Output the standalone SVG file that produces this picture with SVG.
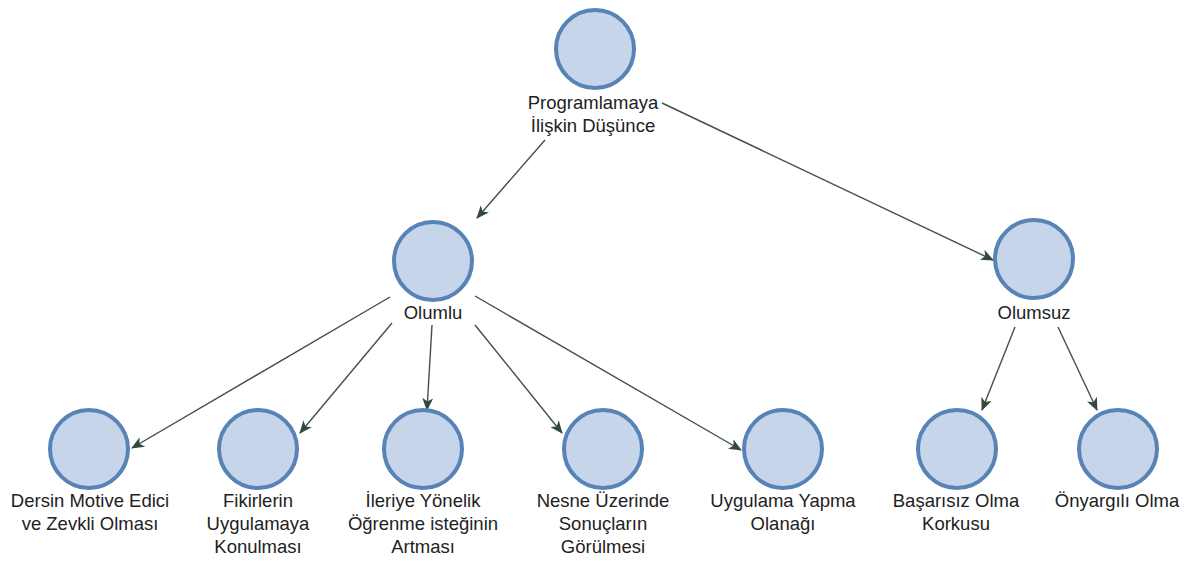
<svg xmlns="http://www.w3.org/2000/svg" width="1193" height="561" viewBox="0 0 1193 561">
  <defs>
    <marker id="arrow" viewBox="0 0 13 11" refX="12" refY="5.5" markerWidth="13" markerHeight="11" markerUnits="userSpaceOnUse" orient="auto">
      <path d="M0,0 L13,5.5 L0,11 L3.5,5.5 Z" fill="#34483f"/>
    </marker>
  </defs>
  <style>
    .node circle { fill: #c6d5ea; stroke: #5783b6; stroke-width: 4; }
    .node text { font-family: "Liberation Sans", Arial, sans-serif; font-size: 18.5px; fill: #222; text-anchor: middle; }
    .edges line { stroke: #3e5249; stroke-width: 1.4; marker-end: url(#arrow); }
  </style>
  <rect width="1193" height="561" fill="#ffffff"/>

  <g class="edges">
    <line x1="545" y1="140" x2="477" y2="218"/>
    <line x1="662" y1="103" x2="993" y2="260"/>
    <line x1="390" y1="297" x2="132" y2="448"/>
    <line x1="392" y1="323" x2="300" y2="433"/>
    <line x1="432" y1="325" x2="427" y2="410"/>
    <line x1="475" y1="325" x2="562" y2="433"/>
    <line x1="475" y1="296" x2="741" y2="450"/>
    <line x1="1015" y1="327" x2="982" y2="410"/>
    <line x1="1058" y1="327" x2="1097" y2="410"/>
  </g>

  <g id="node-programlamaya" class="node">
    <circle cx="595" cy="49" r="39"/>
    <text x="593" y="109">Programlamaya</text>
    <text x="593" y="132">İlişkin Düşünce</text>
  </g>
  <g id="node-olumlu" class="node">
    <circle cx="433" cy="261" r="39"/>
    <text x="433" y="319">Olumlu</text>
  </g>
  <g id="node-olumsuz" class="node">
    <circle cx="1034" cy="259" r="39"/>
    <text x="1034" y="319">Olumsuz</text>
  </g>
  <g id="node-dersin" class="node">
    <circle cx="89" cy="449" r="39"/>
    <text x="90" y="507">Dersin Motive Edici</text>
    <text x="90" y="530">ve Zevkli Olması</text>
  </g>
  <g id="node-fikirlerin" class="node">
    <circle cx="258" cy="449" r="39"/>
    <text x="258" y="507">Fikirlerin</text>
    <text x="258" y="530">Uygulamaya</text>
    <text x="258" y="553">Konulması</text>
  </g>
  <g id="node-ileriye" class="node">
    <circle cx="423" cy="449" r="39"/>
    <text x="423" y="507">İleriye Yönelik</text>
    <text x="423" y="530">Öğrenme isteğinin</text>
    <text x="423" y="553">Artması</text>
  </g>
  <g id="node-nesne" class="node">
    <circle cx="603" cy="449" r="39"/>
    <text x="603" y="507">Nesne Üzerinde</text>
    <text x="603" y="530">Sonuçların</text>
    <text x="603" y="553">Görülmesi</text>
  </g>
  <g id="node-uygulama" class="node">
    <circle cx="783" cy="449" r="39"/>
    <text x="783" y="507">Uygulama Yapma</text>
    <text x="783" y="530">Olanağı</text>
  </g>
  <g id="node-basarisiz" class="node">
    <circle cx="957" cy="449" r="39"/>
    <text x="956" y="507">Başarısız Olma</text>
    <text x="956" y="530">Korkusu</text>
  </g>
  <g id="node-onyargili" class="node">
    <circle cx="1118" cy="449" r="39"/>
    <text x="1117" y="507">Önyargılı Olma</text>
  </g>
</svg>
